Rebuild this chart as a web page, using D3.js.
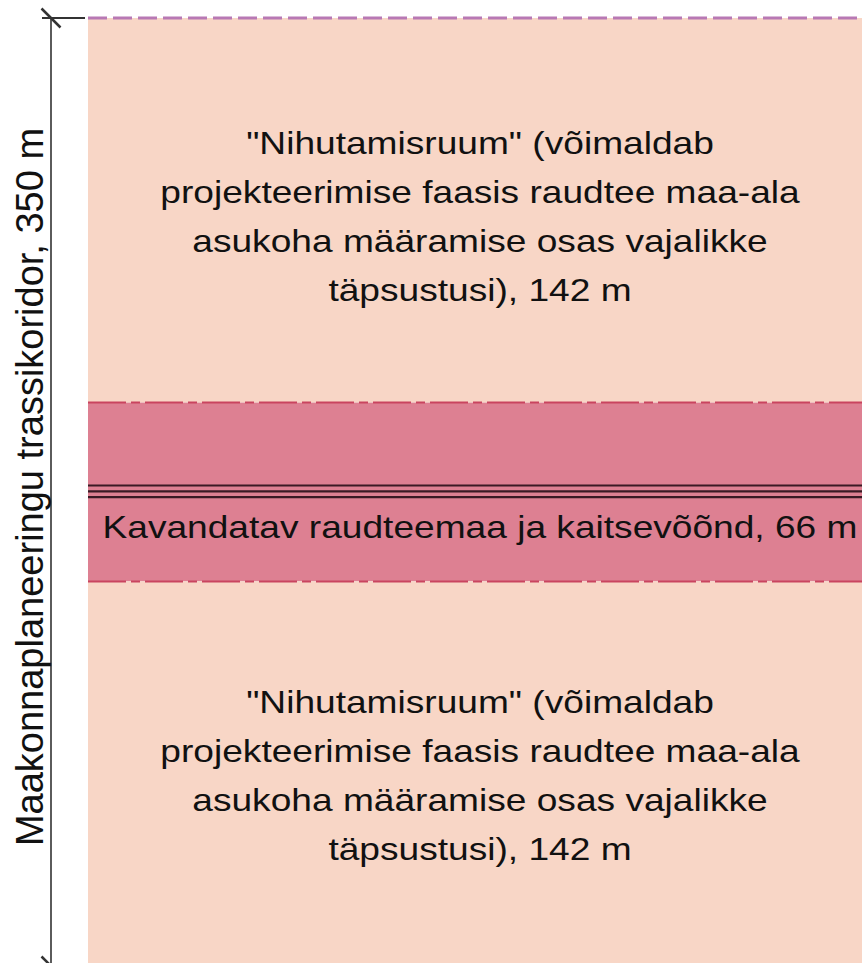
<!DOCTYPE html>
<html>
<head>
    <meta charset="utf-8">
    <style>
        body { margin: 0; background: #fff; }
        svg { display: block; }
        text { font-family: "Liberation Sans", Arial, sans-serif; fill: #111; }
    </style>
</head>
<body>
    <svg width="862" height="963"></svg>

<script src="https://d3js.org/d3.v7.min.js"></script>
<script>
    // corridor widths, metres (top to bottom)
    let bandNames = ["nihutus_yla", "raudtee", "nihutus_ala"]
    let bandWidths = [142, 66, 142]
    let corridorTotal = 350

    let sideLines = [
        "\"Nihutamisruum\" (võimaldab",
        "projekteerimise faasis raudtee maa-ala",
        "asukoha määramise osas vajalikke",
        "täpsustusi), 142 m"
    ]
    let middleLabel = "Kavandatav raudteemaa ja kaitsevõõnd, 66 m"
    let dimLabel = "Maakonnaplaneeringu trassikoridor, 350 m"

    // rail centre lines, offsets in metres from band centre
    let railOffsets = [-2.4, -0.2, 1.9]

    let svg = d3.select("svg")

    let y = d3.scaleLinear()
        .domain([0, corridorTotal])
        .range([18, 966])

    let x0 = 88, x1 = 862
    let textX = 480
    let sx = 1.16   // horizontal stretch of the source picture

    // stack the bands
    let acc = 0
    let bands = bandWidths.map((w, i) => {
        let b = { name: bandNames[i], start: acc, end: acc + w, w: w }
        acc += w
        return b
    })

    svg.append("g")
        .selectAll("rect")
        .data(bands)
        .join("rect")
        .attr("x", x0)
        .attr("width", x1 - x0)
        .attr("y", d => y(d.start))
        .attr("height", d => y(d.end) - y(d.start))
        .style("fill", d => d.name == "raudtee" ? "#dd8092" : "#f8d6c6")

    let mid = bands[1]

    // dash-dot edges of the railway band
    svg.append("g")
        .selectAll("line")
        .data([mid.start, mid.end])
        .join("line")
        .attr("x1", x0)
        .attr("x2", x1)
        .attr("y1", d => y(d))
        .attr("y2", d => y(d))
        .style("stroke", "#c9445f")
        .style("stroke-width", 2)
        .style("stroke-dasharray", "38,5,9,5")

    // rail lines
    let midC = (mid.start + mid.end) / 2
    svg.append("g")
        .selectAll("line")
        .data(railOffsets)
        .join("line")
        .attr("x1", x0)
        .attr("x2", x1)
        .attr("y1", d => y(midC + d))
        .attr("y2", d => y(midC + d))
        .style("stroke", "#3a1a24")
        .style("stroke-width", 2.2)

    // corridor outer edge (dashed purple)
    svg.append("line")
        .attr("x1", x0)
        .attr("x2", x1)
        .attr("y1", y(0))
        .attr("y2", y(0))
        .style("stroke", "#b879b4")
        .style("stroke-width", 3)
        .style("stroke-dasharray", "19,6")

    // dimension line
    let dimX = 51
    let dim = svg.append("g")
    dim.append("line")
        .attr("x1", dimX).attr("x2", dimX)
        .attr("y1", y(0)).attr("y2", y(corridorTotal))
        .style("stroke", "#333")
        .style("stroke-width", 1.6)
    dim.append("line")
        .attr("x1", 42).attr("x2", 85)
        .attr("y1", y(0)).attr("y2", y(0))
        .style("stroke", "#333")
        .style("stroke-width", 2)
    dim.selectAll(".tick")
        .data([0, corridorTotal])
        .join("line")
        .attr("class", "tick")
        .attr("x1", dimX - 9.5).attr("x2", dimX + 9.5)
        .attr("y1", d => y(d) - 9.5).attr("y2", d => y(d) + 9.5)
        .style("stroke", "#333")
        .style("stroke-width", 2.5)

    dim.append("text")
        .attr("transform", "translate(43," + (y(corridorTotal / 2) - 5) + ") rotate(-90)")
        .attr("text-anchor", "middle")
        .style("font-size", "38px")
        .text(dimLabel)

    // band texts
    let lh = 49
    let cap = 11.5
    function block(centre) {
        let g = svg.append("g")
            .attr("transform", "translate(" + textX + ",0) scale(" + sx + ",1)")
        g.selectAll("text")
            .data(sideLines)
            .join("text")
            .attr("x", 0)
            .attr("y", (d, i) => centre - 1.5 * lh + i * lh + cap)
            .attr("text-anchor", "middle")
            .style("font-size", "32px")
            .text(d => d)
    }
    block((y(bands[0].start) + y(bands[0].end)) / 2 + 6)
    block((y(bands[2].start) + y(bands[2].end)) / 2 + 1)

    svg.append("g")
        .attr("transform", "translate(" + textX + ",0) scale(" + sx + ",1)")
        .append("text")
        .attr("x", 0)
        .attr("y", y(midC) + 46)
        .attr("text-anchor", "middle")
        .style("font-size", "32px")
        .text(middleLabel)
</script>
</body>
</html>
